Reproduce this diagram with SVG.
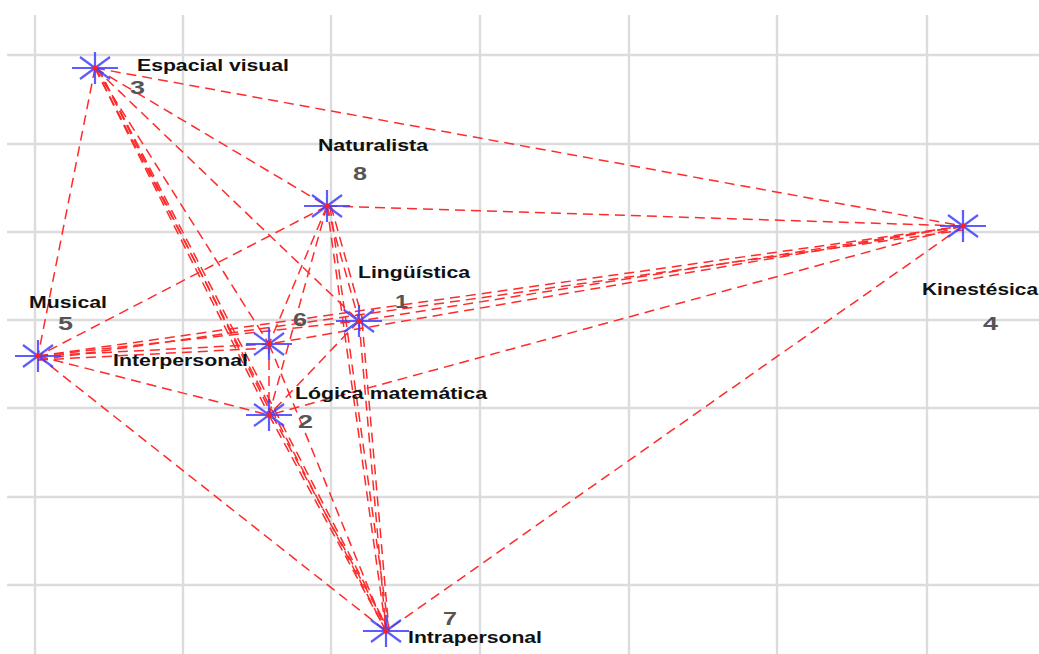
<svg xmlns="http://www.w3.org/2000/svg" xmlns:xlink="http://www.w3.org/1999/xlink" width="1039" height="654" viewBox="0 0 1039 654">
<style>
.grid line{stroke:#dcdcdc;stroke-width:2.4}
.edges line{stroke:#ff2a2a;stroke-width:1.5;stroke-dasharray:10 6;fill:none}
.lbl{font-family:"Liberation Sans",Arial,sans-serif;font-weight:bold;font-size:16px;fill:#111}
.num{font-family:"Liberation Sans",Arial,sans-serif;font-weight:bold;font-size:18px;fill:#555}
.star line{stroke:#4040ff;stroke-width:2.2;stroke-opacity:0.85}
</style>
<defs>
<g id="star" class="star">
<line x1="-23" y1="0" x2="23" y2="0"/>
<line x1="0" y1="-16" x2="0" y2="16"/>
<line x1="-15" y1="-11" x2="15" y2="11"/>
<line x1="-15" y1="11" x2="15" y2="-11"/>
<circle r="2.6" fill="#ff2020"/>
</g>
</defs>
<rect width="1039" height="654" fill="#fff"/>
<g class="grid">
<line x1="35" y1="15" x2="35" y2="654"/>
<line x1="183" y1="15" x2="183" y2="654"/>
<line x1="331" y1="15" x2="331" y2="654"/>
<line x1="480" y1="15" x2="480" y2="654"/>
<line x1="629" y1="15" x2="629" y2="654"/>
<line x1="777" y1="15" x2="777" y2="654"/>
<line x1="927" y1="15" x2="927" y2="654"/>
<line x1="7" y1="55" x2="1039" y2="55"/>
<line x1="7" y1="144" x2="1039" y2="144"/>
<line x1="7" y1="232" x2="1039" y2="232"/>
<line x1="7" y1="320" x2="1039" y2="320"/>
<line x1="7" y1="408" x2="1039" y2="408"/>
<line x1="7" y1="497" x2="1039" y2="497"/>
<line x1="7" y1="585" x2="1039" y2="585"/>
</g>
<g class="edges" id="connectors">
<line x1="95" y1="68" x2="963" y2="226"/>
<line x1="95" y1="68" x2="327" y2="206"/>
<line x1="95" y1="68" x2="359" y2="321"/>
<line x1="95" y1="68" x2="269" y2="344"/>
<line x1="95" y1="68" x2="269" y2="415"/>
<line x1="98" y1="68" x2="272" y2="415"/>
<line x1="95" y1="68" x2="386" y2="631"/>
<line x1="98" y1="68" x2="389" y2="631"/>
<line x1="95" y1="68" x2="38" y2="356"/>
<line x1="327" y1="206" x2="963" y2="226"/>
<line x1="327" y1="206" x2="38" y2="356"/>
<line x1="327" y1="206" x2="269" y2="344"/>
<line x1="327" y1="206" x2="269" y2="415"/>
<line x1="327" y1="206" x2="359" y2="321"/>
<line x1="331" y1="206" x2="363" y2="321"/>
<line x1="327" y1="206" x2="386" y2="631"/>
<line x1="330" y1="206" x2="389" y2="631"/>
<line x1="38" y1="356" x2="963" y2="226"/>
<line x1="38" y1="360" x2="963" y2="230"/>
<line x1="38" y1="356" x2="359" y2="321"/>
<line x1="38" y1="356" x2="269" y2="344"/>
<line x1="38" y1="360" x2="269" y2="348"/>
<line x1="38" y1="356" x2="269" y2="415"/>
<line x1="38" y1="356" x2="386" y2="631"/>
<line x1="963" y1="226" x2="359" y2="321"/>
<line x1="963" y1="226" x2="269" y2="344"/>
<line x1="963" y1="226" x2="269" y2="415"/>
<line x1="963" y1="226" x2="386" y2="631"/>
<line x1="359" y1="321" x2="269" y2="415"/>
<line x1="359" y1="321" x2="386" y2="631"/>
<line x1="362" y1="321" x2="389" y2="631"/>
<line x1="269" y1="344" x2="269" y2="415"/>
<line x1="269" y1="344" x2="386" y2="631"/>
<line x1="269" y1="415" x2="386" y2="631"/>
<line x1="272" y1="415" x2="389" y2="631"/>
</g>
<g id="node-espacial">
<use xlink:href="#star" href="#star" x="95" y="68"/>
<text class="lbl" x="137" y="71" textLength="152" lengthAdjust="spacingAndGlyphs">Espacial visual</text>
<text class="num" x="130" y="94" textLength="15" lengthAdjust="spacingAndGlyphs">3</text>
</g>
<g id="node-naturalista">
<use xlink:href="#star" href="#star" x="327" y="206"/>
<text class="lbl" x="318" y="151" textLength="110" lengthAdjust="spacingAndGlyphs">Naturalista</text>
<text class="num" x="353" y="180" textLength="14" lengthAdjust="spacingAndGlyphs">8</text>
</g>
<g id="node-linguistica">
<use xlink:href="#star" href="#star" x="359" y="321"/>
<text class="lbl" x="358" y="278" textLength="112" lengthAdjust="spacingAndGlyphs">Lingüística</text>
<text class="num" x="395" y="308" textLength="13" lengthAdjust="spacingAndGlyphs">1</text>
</g>
<g id="node-interpersonal">
<use xlink:href="#star" href="#star" x="269" y="344"/>
<text class="lbl" x="113" y="366" textLength="135" lengthAdjust="spacingAndGlyphs">Interpersonal</text>
<text class="num" x="293" y="326" textLength="14" lengthAdjust="spacingAndGlyphs">6</text>
</g>
<g id="node-logica">
<use xlink:href="#star" href="#star" x="269" y="415"/>
<text class="lbl" x="295" y="399" textLength="192" lengthAdjust="spacingAndGlyphs">Lógica matemática</text>
<text class="num" x="298" y="428" textLength="15" lengthAdjust="spacingAndGlyphs">2</text>
</g>
<g id="node-musical">
<use xlink:href="#star" href="#star" x="38" y="356"/>
<text class="lbl" x="29" y="308" textLength="78" lengthAdjust="spacingAndGlyphs">Musical</text>
<text class="num" x="58" y="330" textLength="15" lengthAdjust="spacingAndGlyphs">5</text>
</g>
<g id="node-kinestesica">
<use xlink:href="#star" href="#star" x="963" y="226"/>
<text class="lbl" x="922" y="295" textLength="116" lengthAdjust="spacingAndGlyphs">Kinestésica</text>
<text class="num" x="983" y="330" textLength="15" lengthAdjust="spacingAndGlyphs">4</text>
</g>
<g id="node-intrapersonal">
<use xlink:href="#star" href="#star" x="386" y="631"/>
<text class="lbl" x="408" y="643" textLength="134" lengthAdjust="spacingAndGlyphs">Intrapersonal</text>
<text class="num" x="443" y="625" textLength="14" lengthAdjust="spacingAndGlyphs">7</text>
</g>
</svg>
